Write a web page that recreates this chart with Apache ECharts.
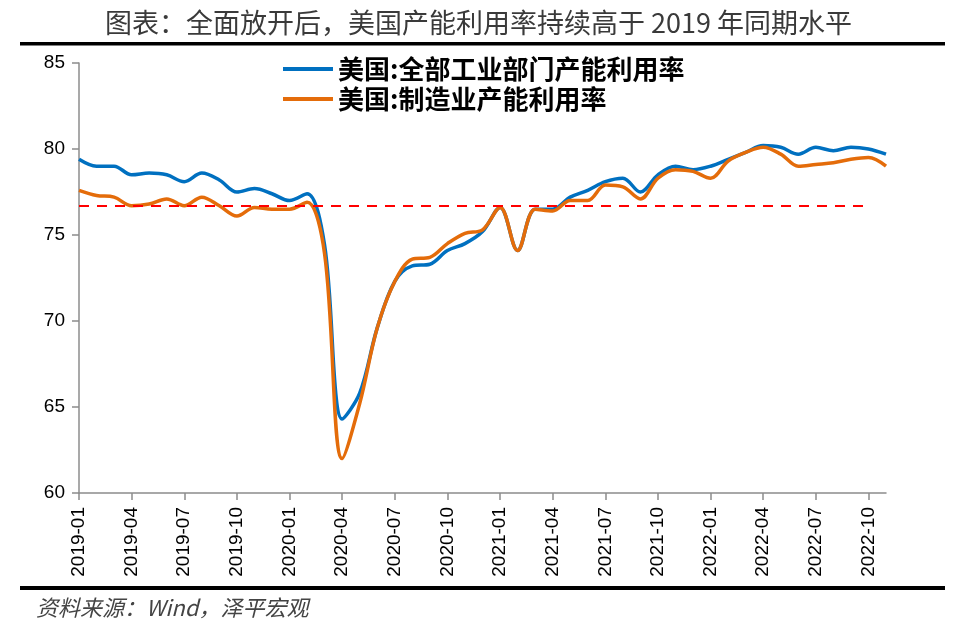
<!DOCTYPE html>
<html>
<head>
<meta charset="utf-8">
<script src="https://cdn.jsdelivr.net/npm/echarts@6/dist/echarts.min.js"></script>
<style>html,body{margin:0;padding:0;background:#fff;}#c{width:957px;height:632px;}</style>
</head>
<body>
<div id="c"></div>
<script>
const months = ['2019-01','2019-02','2019-03','2019-04','2019-05','2019-06','2019-07','2019-08','2019-09','2019-10','2019-11','2019-12',
'2020-01','2020-02','2020-03','2020-04','2020-05','2020-06','2020-07','2020-08','2020-09','2020-10','2020-11','2020-12',
'2021-01','2021-02','2021-03','2021-04','2021-05','2021-06','2021-07','2021-08','2021-09','2021-10','2021-11','2021-12',
'2022-01','2022-02','2022-03','2022-04','2022-05','2022-06','2022-07','2022-08','2022-09','2022-10','2022-11'];
const totalIndustry = [79.4,79.0,79.0,78.5,78.6,78.5,78.1,78.6,78.2,77.5,77.7,77.4,
77.0,77.4,74.4,64.3,65.8,69.6,72.3,73.2,73.3,74.1,74.5,75.2,
76.6,74.1,76.5,76.5,77.2,77.6,78.1,78.3,77.5,78.5,79.0,78.8,
79.0,79.4,79.8,80.2,80.1,79.7,80.1,79.9,80.1,80.0,79.7];
const manufacturing = [77.6,77.3,77.2,76.7,76.8,77.1,76.7,77.2,76.7,76.1,76.6,76.5,
76.5,76.9,73.9,62.0,65.2,69.6,72.3,73.6,73.7,74.5,75.1,75.3,
76.6,74.1,76.5,76.4,77.0,77.0,77.9,77.8,77.1,78.3,78.8,78.7,
78.3,79.3,79.8,80.1,79.7,79.0,79.1,79.2,79.4,79.5,79.0];
const level2019 = 76.7;
const refStart = '2019-01', refEnd = '2022-10';
const seriesNames = ['美国:全部工业部门产能利用率','美国:制造业产能利用率'];
const titleText = '图表：全面放开后，美国产能利用率持续高于 2019 年同期水平';
const sourceText = '资料来源：Wind，泽平宏观';

const chart = echarts.init(document.getElementById('c'), null, {renderer:'canvas'});
chart.setOption({
  animation: false,
  backgroundColor: '#fff',
  title: {
    text: titleText, left: 'center', top: 4,
    textStyle: {fontFamily: 'Noto Sans CJK SC', fontWeight: 'normal', fontSize: 27, color: '#3a3a3a'}
  },
  legend: {
    orient: 'vertical', left: 278, top: 51, itemGap: 4,
    icon: 'rect', itemWidth: 50, itemHeight: 4,
    textStyle: {fontFamily: 'Noto Sans CJK SC', fontWeight: 'bold', fontSize: 26, color: '#000'},
    data: seriesNames
  },
  grid: {left: 79, right: 71, top: 63, bottom: 139},
  xAxis: {
    type: 'category', data: months, boundaryGap: false,
    axisLine: {lineStyle: {color: '#8c8c8c', width: 1.5}},
    axisTick: {show: true, interval: 2, length: 7, lineStyle: {color: '#8c8c8c', width: 1.5}},
    axisLabel: {interval: 2, rotate: 90, margin: 14, fontSize: 19, color: '#000', fontFamily: 'Liberation Sans'}
  },
  yAxis: {
    type: 'value', min: 60, max: 85, interval: 5,
    splitLine: {show: false},
    axisLine: {show: true, lineStyle: {color: '#8c8c8c', width: 1.5}},
    axisTick: {show: true, length: 7, lineStyle: {color: '#8c8c8c', width: 1.5}},
    axisLabel: {fontSize: 19, color: '#000', margin: 14, fontFamily: 'Liberation Sans'}
  },
  series: [
    {
      name: seriesNames[0], type: 'line', data: totalIndustry, smooth: 0.35,
      showSymbol: false, symbol: 'none', itemStyle: {color: '#0070C0'},
      lineStyle: {color: '#0070C0', width: 3.5},
      z: 2
    },
    {
      name: seriesNames[1], type: 'line', data: manufacturing, smooth: 0.35,
      showSymbol: false, symbol: 'none', itemStyle: {color: '#E46C0A'},
      lineStyle: {color: '#E46C0A', width: 3.5},
      z: 3,
      markLine: {
        silent: true, symbol: 'none', label: {show: false},
        lineStyle: {color: '#FF0000', type: [10, 8], width: 2},
        data: [[{coord: [refStart, level2019]}, {coord: [refEnd, level2019]}]]
      }
    }
  ],
  graphic: [
    {type: 'rect', shape: {x: 20, y: 42, width: 925, height: 3.5}, style: {fill: '#000'}},
    {type: 'rect', shape: {x: 20, y: 586, width: 925, height: 4}, style: {fill: '#000'}},
    {type: 'text', left: 36, top: 597, style: {text: sourceText, fontFamily: 'Noto Sans CJK SC', fontStyle: 'italic', fontSize: 22, fill: '#444'}}
  ]
});
</script>
</body>
</html>
